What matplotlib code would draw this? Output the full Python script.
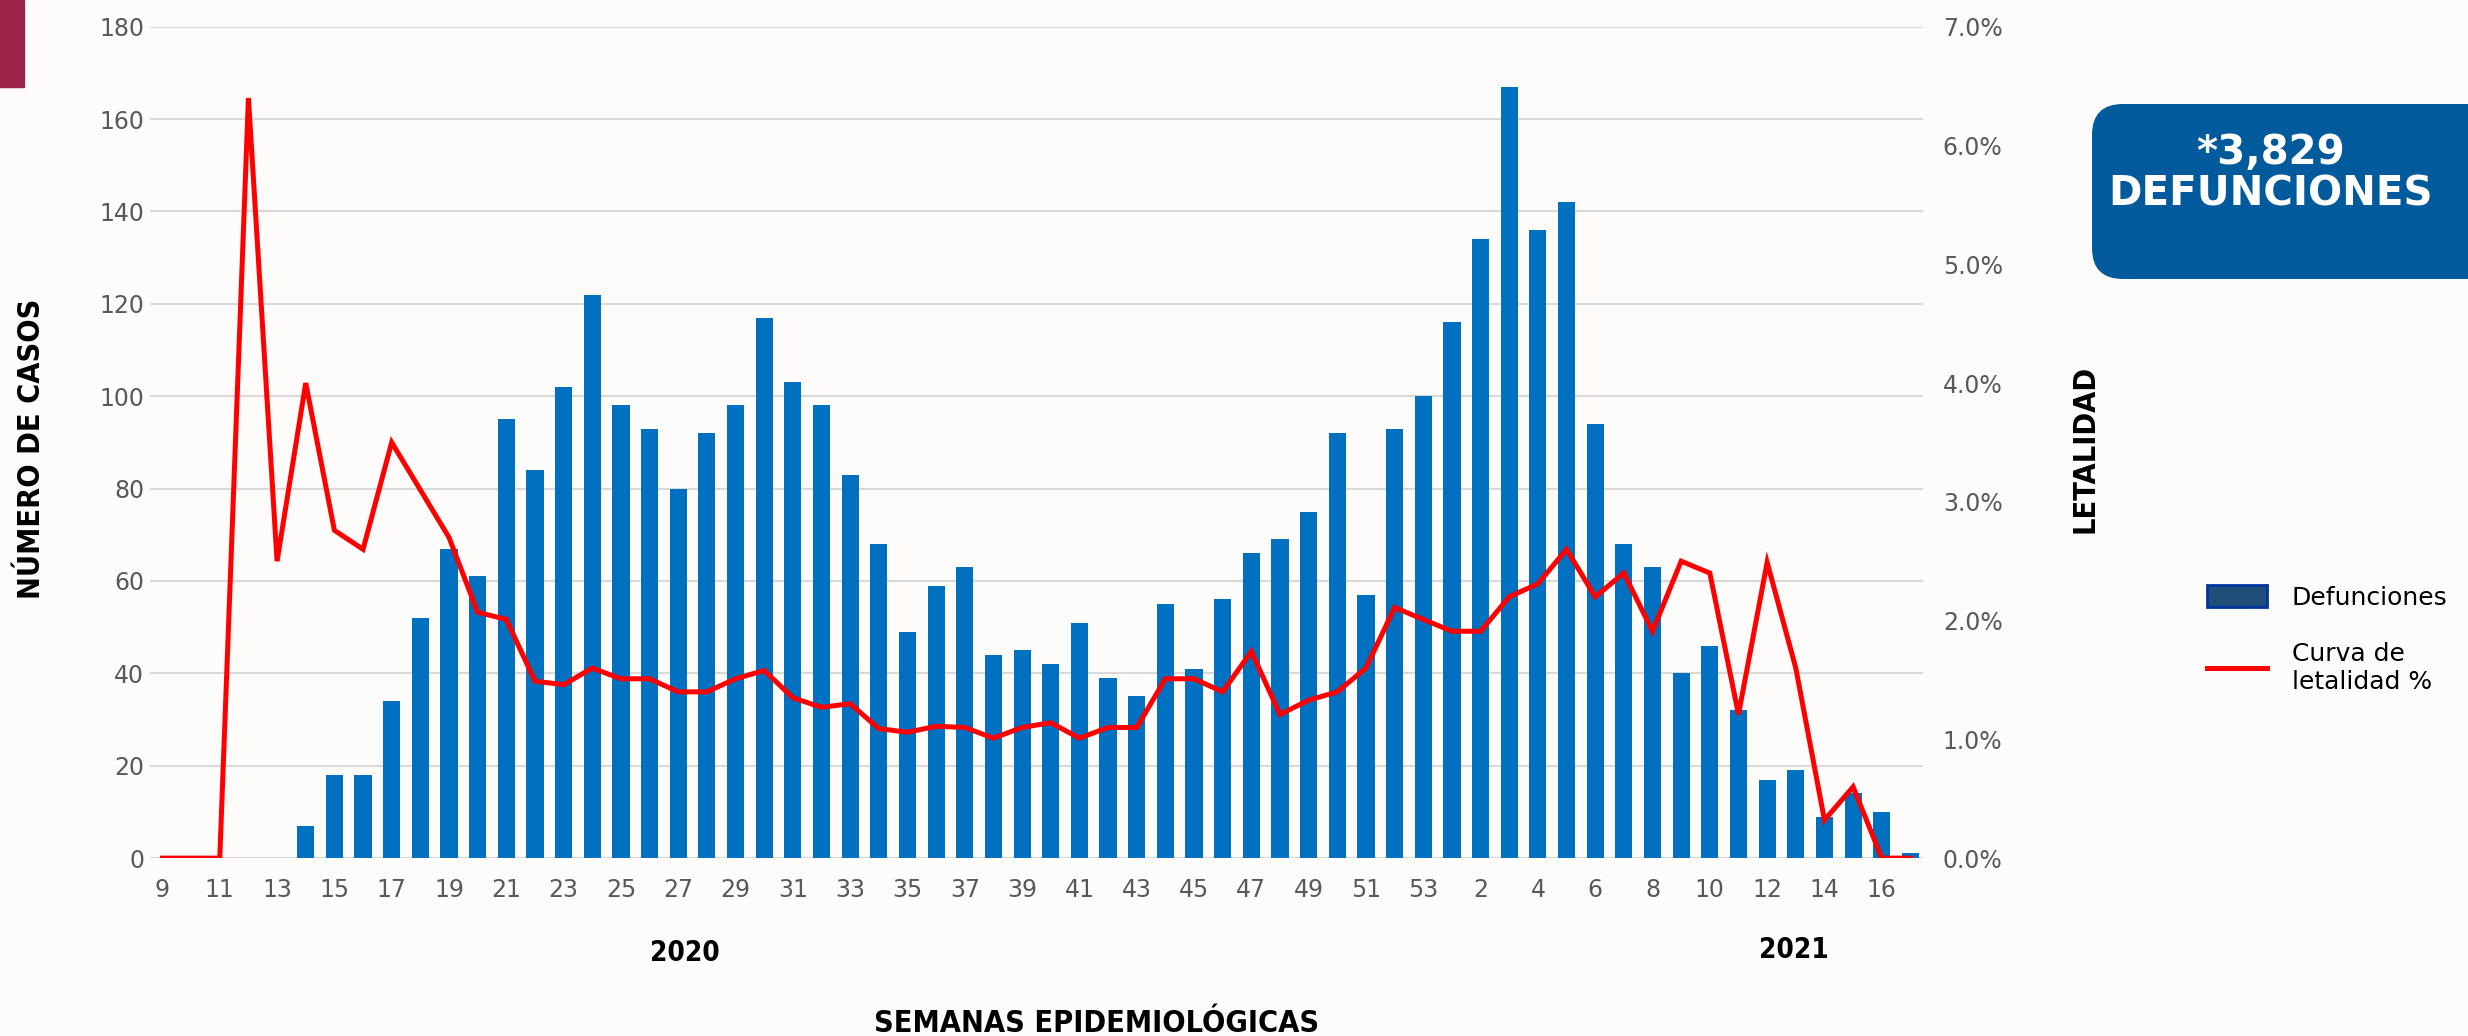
import matplotlib.pyplot as plt
import numpy as np
from matplotlib.patches import FancyBboxPatch, Rectangle, Patch
from matplotlib.lines import Line2D

# semanas epidemiologicas (2020: 9-53, 2021: 1-17)
semanas = [str(s) for s in range(9, 54)] + [str(s) for s in range(1, 18)]

# defunciones por semana
defunciones = [0, 0, 0, 0, 0, 7, 18, 18, 34, 52, 67, 61, 95, 84, 102, 122, 98, 93, 80, 92,
               98, 117, 103, 98, 83, 68, 49, 59, 63, 44, 45, 42, 51, 39, 35, 55, 41, 56, 66, 69,
               75, 92, 57, 93, 100,
               116, 134, 167, 136, 142, 94, 68, 63, 40, 46, 32, 17, 19, 9, 14, 10, 1]

# curva de letalidad (%)
letalidad = [0.0, 0.0, 0.0, 6.4, 2.5, 4.0, 2.76, 2.6, 3.5, 3.1, 2.7, 2.07, 2.01, 1.49, 1.46,
             1.6, 1.51, 1.51, 1.4, 1.4, 1.51, 1.58, 1.35, 1.27, 1.3, 1.09, 1.06, 1.11, 1.1, 1.01,
             1.1, 1.14, 1.01, 1.1, 1.1, 1.51, 1.51, 1.4, 1.74, 1.21, 1.33, 1.4, 1.6, 2.11, 2.01,
             1.91, 1.91, 2.2, 2.31, 2.6, 2.2, 2.4, 1.91, 2.5, 2.4, 1.21, 2.49, 1.6, 0.32, 0.6, 0.0, 0.0]

total_texto = '*3,829\nDEFUNCIONES'

fuente = ['DejaVu Sans']
gris = '#595959'

fig = plt.figure(figsize=(24.68, 10.36), dpi=100)
fig.patch.set_facecolor('#FDFCFA')

# rectangulo guinda arriba a la izquierda
fig.patches.append(Rectangle((0, 0.916), 0.0096, 0.084, transform=fig.transFigure,
                             color='#9D2449', zorder=0))

ax = fig.add_axes([0.0606, 0.1717, 0.7187, 0.8025])
ax.set_facecolor('none')
x = np.arange(len(semanas))

# barras de defunciones
ax.bar(x, defunciones, width=0.6, color='#0070C0', zorder=2)
ax.set_ylim(0, 180)
ax.set_yticks(np.arange(0, 181, 20))
ax.set_xlim(-0.45, len(semanas) - 0.55)
ax.set_xticks(x[::2])
ax.set_xticklabels(semanas[::2])
ax.grid(axis='y', color='#D9D9D9', linewidth=1.5, zorder=0)
ax.set_axisbelow(True)
for s in ax.spines.values():
    s.set_visible(False)
ax.tick_params(axis='y', length=0, labelsize=17, labelcolor=gris, pad=4)
ax.tick_params(axis='x', length=0, labelsize=17, labelcolor=gris, pad=14)

# eje derecho: letalidad
ax2 = ax.twinx()
ax2.plot(x, np.array(letalidad) / 100, color='#FF0000', linewidth=3.6, zorder=3,
         solid_joinstyle='miter')
ax2.set_ylim(0, 0.07)
ax2.set_yticks(np.arange(0, 0.0701, 0.01))
ax2.set_yticklabels(['{:.1f}%'.format(v * 100) for v in np.arange(0, 0.0701, 0.01)])
for s in ax2.spines.values():
    s.set_visible(False)
ax2.tick_params(length=0, labelsize=17, labelcolor=gris, pad=14)

# titulos de ejes
fig.text(0.0128, 0.567, 'NÚMERO DE CASOS', rotation=90, ha='center', va='center',
         fontsize=22, fontweight='bold', fontstretch='condensed', family=fuente)
fig.text(0.845, 0.567, 'LETALIDAD', rotation=90, ha='center', va='center',
         fontsize=22, fontweight='bold', fontstretch='condensed', family=fuente)
fig.text(0.4445, 0.012, 'SEMANAS EPIDEMIOLÓGICAS', ha='center', va='center',
         fontsize=22, fontweight='bold', fontstretch='condensed', family=fuente)
fig.text(0.2774, 0.080, '2020', ha='center', va='center', fontsize=20,
         fontweight='semibold', fontstretch='condensed', family=fuente)
fig.text(0.727, 0.083, '2021', ha='center', va='center', fontsize=20,
         fontweight='semibold', fontstretch='condensed', family=fuente)

# recuadro de total
caja = FancyBboxPatch((20.92 + 0.31, 7.57 + 0.31), 4.2, 1.75 - 0.62,
                      boxstyle='round,pad=0.31', transform=fig.dpi_scale_trans,
                      facecolor='#005A9C', edgecolor='none', zorder=1)
fig.patches.append(caja)
fig.text(0.920, 0.832, total_texto, ha='center', va='center', color='white',
         fontsize=29, fontweight='bold', family=fuente, linespacing=1.05)

# leyenda
handles = [Patch(facecolor='#1F4E79', edgecolor='#0033A0', linewidth=2),
           Line2D([0], [0], color='#FF0000', linewidth=3.6)]
fig.legend(handles, ['Defunciones', 'Curva de\nletalidad %'], loc='upper left',
           bbox_to_anchor=(0.885, 0.457), frameon=False, handlelength=2.4,
           handleheight=1.0, labelspacing=1.3, handletextpad=1.0,
           prop={'family': fuente, 'size': 18})

plt.savefig('out.png', dpi=100, facecolor=fig.get_facecolor())
